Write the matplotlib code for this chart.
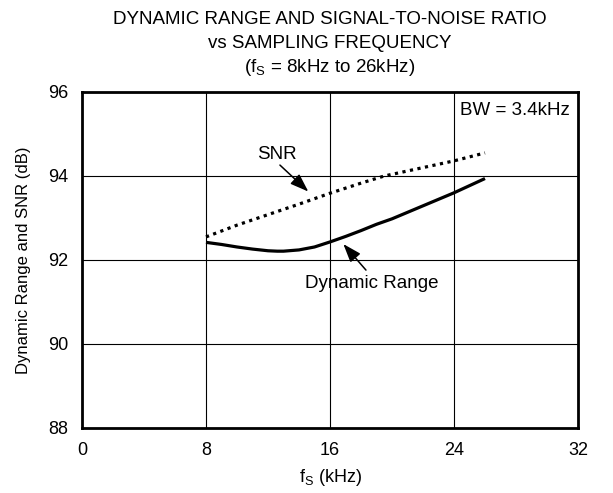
import matplotlib
matplotlib.use("Agg")
import matplotlib.pyplot as plt

plt.rcParams['font.family'] = ['Liberation Sans', 'DejaVu Sans']

fs_dr = [8, 9, 10, 11, 12, 12.6, 13, 14, 15, 16, 17, 18, 19, 20, 22, 24, 26]
dr = [92.42, 92.37, 92.31, 92.26, 92.22, 92.21, 92.21, 92.24, 92.31, 92.43,
      92.56, 92.70, 92.85, 92.98, 93.29, 93.60, 93.94]
fs_snr = [8, 10, 12, 14, 16, 18, 19.5, 20, 22, 24, 26]
snr = [92.55, 92.83, 93.08, 93.33, 93.59, 93.83, 94.0, 94.04, 94.20, 94.36, 94.55]
xticks = [0, 8, 16, 24, 32]
yticks = [88, 90, 92, 94, 96]

W, H = 613, 493
fig = plt.figure(figsize=(W / 100, H / 100), dpi=100)
L, R, T, B = 82, 578, 92, 428
ax = fig.add_axes([L / W, 1 - B / H, (R - L) / W, (B - T) / H])

ax.plot(fs_dr, dr, color='black', lw=2.3, solid_capstyle='butt', solid_joinstyle='round')
ax.plot(fs_snr, snr, color='black', lw=2.3, linestyle=(0, (1, 1.4)), dash_capstyle='butt')

ax.set_xlim(0, 32)
ax.set_ylim(88, 96)
ax.set_xticks(xticks)
ax.set_yticks(yticks)
ax.grid(True, color='black', lw=0.8)
ax.tick_params(axis='x', length=0, labelsize=13, pad=10)
ax.tick_params(axis='y', length=0, labelsize=13, pad=10)
for s in ax.spines.values():
    s.set_linewidth(2)

ax.set_xlabel('f$_\\mathregular{S}$ (kHz)', fontsize=13, labelpad=6)
ax.set_ylabel('Dynamic Range and SNR (dB)', fontsize=12, labelpad=12)

ax.text(31.44, 95.57, 'BW = 3.4kHz', ha='right', va='center', fontsize=13.5)

arrow = '-|>,head_length=0.7,head_width=0.25'
ax.text(12.6, 94.52, 'SNR', ha='center', va='center', fontsize=13.5)
ax.annotate('', xy=(14.6, 93.63), xytext=(12.77, 94.26),
            arrowprops=dict(arrowstyle=arrow, color='black', lw=1.1, shrinkA=0, shrinkB=0,
                            mutation_scale=16))
ax.text(18.69, 91.45, 'Dynamic Range', ha='center', va='center', fontsize=13.5)
ax.annotate('', xy=(16.86, 92.38), xytext=(18.32, 91.76),
            arrowprops=dict(arrowstyle=arrow, color='black', lw=1.1, shrinkA=0, shrinkB=0,
                            mutation_scale=16))

cx = (L + R) / 2 / W
fig.text(cx, 1 - 19 / H, 'DYNAMIC RANGE AND SIGNAL-TO-NOISE RATIO', ha='center', va='center', fontsize=13.5)
fig.text(cx, 1 - 43 / H, 'vs SAMPLING FREQUENCY', ha='center', va='center', fontsize=13.5)
fig.text(cx, 1 - 67 / H, '(f$_\\mathregular{S}$ = 8kHz to 26kHz)', ha='center', va='center', fontsize=13.5)

fig.savefig('out.png', dpi=100, facecolor='white')
